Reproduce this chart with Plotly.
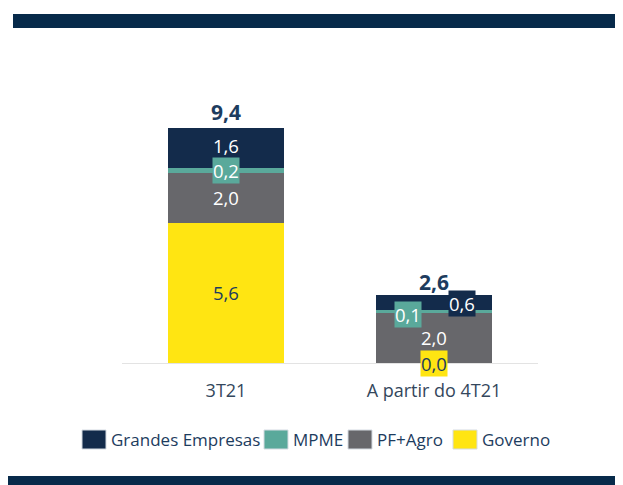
import plotly.graph_objects as go

categories = ["3T21", "A partir do 4T21"]
series_names = ["Governo", "PF+Agro", "MPME", "Grandes Empresas"]
legend_order = ["Grandes Empresas", "MPME", "PF+Agro", "Governo"]
governo = [5.6, 0.0]
pf_agro = [2.0, 2.0]
mpme = [0.2, 0.1]
grandes = [1.6, 0.6]
totals = [9.4, 2.6]

colors = {
    "Grandes Empresas": "#132b4b",
    "MPME": "#5aa99b",
    "PF+Agro": "#67676b",
    "Governo": "#ffe512",
}
navy_text = "#1d3c5e"
FONT = "Open Sans"

# page offset (browser body margin) and plot area geometry in figure pixels
OFF = 8
L, T, W, H = 114, 92, 416, 263

def px(sx):  # screen x -> paper x
    return (sx - OFF - L) / W

def py(sy):  # screen y -> paper y
    return (T + H - (sy - OFF)) / H

def fmt(v):
    return f"{v:.1f}".replace(".", ",")

fig = go.Figure()
series = {"Governo": governo, "PF+Agro": pf_agro, "MPME": mpme, "Grandes Empresas": grandes}
for name in series_names:
    fig.add_trace(go.Bar(
        x=categories, y=series[name], name=name,
        marker=dict(color=colors[name], line=dict(width=0)),
        width=0.56, showlegend=False, hoverinfo="skip",
    ))

LS = 18.5
ann = []
for i, cat in enumerate(categories):
    g, p, m, ge = governo[i], pf_agro[i], mpme[i], grandes[i]
    ann.append(dict(x=cat, y=g + p + m + ge if i == 0 else totals[i], text=f"<b>{fmt(totals[i])}</b>",
                    showarrow=False, yanchor="bottom", yshift=0,
                    font=dict(size=21, color=navy_text, family=FONT)))
    ann.append(dict(x=cat, y=g + p / 2, text=fmt(p), showarrow=False,
                    font=dict(size=LS, color="white", family=FONT)))
    if i == 0:
        ann.append(dict(x=cat, y=g / 2, text=fmt(g), showarrow=False,
                        font=dict(size=LS, color=navy_text, family=FONT)))
        ann.append(dict(x=cat, y=g + p + m / 2, text=fmt(m), showarrow=False,
                        bgcolor=colors["MPME"], borderpad=0,
                        font=dict(size=LS, color="white", family=FONT)))
        ann.append(dict(x=cat, y=g + p + m + ge / 2, text=fmt(ge), showarrow=False, yshift=2,
                        font=dict(size=LS, color="white", family=FONT)))
    else:
        ann.append(dict(x=cat, y=g, text=fmt(g), showarrow=False, yshift=0,
                        bgcolor=colors["Governo"], borderpad=0,
                        font=dict(size=LS, color=navy_text, family=FONT)))
        ann.append(dict(x=cat, y=g + p + m / 2, text=fmt(m), showarrow=False, xshift=-26, yshift=-3,
                        bgcolor=colors["MPME"], borderpad=0,
                        font=dict(size=LS, color="white", family=FONT)))
        ann.append(dict(x=cat, y=g + p + m + ge / 2, text=fmt(ge), showarrow=False, xshift=28, yshift=-1,
                        bgcolor=colors["Grandes Empresas"], borderpad=0,
                        font=dict(size=LS, color="white", family=FONT)))

band = "#072a4a"
shapes = [
    dict(type="rect", xref="paper", yref="paper", x0=px(13), x1=px(640), y0=py(28), y1=py(14),
         fillcolor=band, line=dict(width=0), layer="above"),
    dict(type="rect", xref="paper", yref="paper", x0=px(8), x1=px(640), y0=py(500), y1=py(476),
         fillcolor=band, line=dict(width=0), layer="above"),
]

# legend (swatch + label), laid out in a single row like the original
sw_left = [82, 264, 348, 453]
sw_w = 24
for sx, name in zip(sw_left, legend_order):
    shapes.append(dict(type="rect", xref="paper", yref="paper",
                       x0=px(sx), x1=px(sx + sw_w), y0=py(449), y1=py(430),
                       fillcolor=colors[name], line=dict(color="#d5dbe2", width=1)))
    ann.append(dict(xref="paper", yref="paper", x=px(sx + sw_w + 3), y=py(439),
                    xanchor="left", yanchor="middle", text=name, showarrow=False,
                    font=dict(size=17, color=navy_text, family=FONT)))

fig.update_layout(
    barmode="stack",
    width=623, height=485,
    margin=dict(l=L, r=623 - L - W, t=T, b=485 - T - H),
    paper_bgcolor="white", plot_bgcolor="white",
    font=dict(family=FONT, color=navy_text),
    xaxis=dict(showgrid=False, showline=True, linecolor="#e3e3e3", linewidth=1,
               ticks="", ticklabelstandoff=11,
               tickfont=dict(size=18, color="#34475c", family=FONT),
               range=[-0.5, 1.5], fixedrange=True),
    yaxis=dict(showgrid=False, zeroline=False, showticklabels=False,
               range=[0, 10.5], fixedrange=True),
    annotations=ann,
    shapes=shapes,
    showlegend=False,
)

fig.write_html("out.html")
